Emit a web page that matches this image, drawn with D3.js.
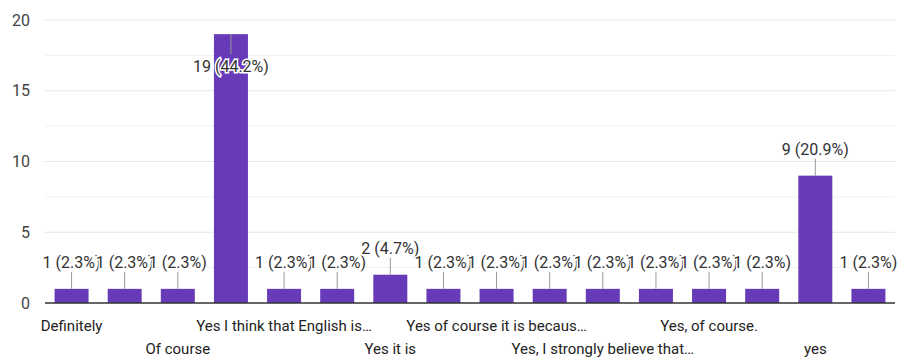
<!DOCTYPE html>
<html>
<head>
<meta charset="utf-8">
<script src="https://cdn.jsdelivr.net/npm/d3@7"></script>
<style>
  body { margin: 0; background: #fff; }
  svg text { font-family: Roboto, Arial, sans-serif; }
</style>
</head>
<body>
<div id="app"></div>
<script>
// Chart data
const labels = [
  "Definitely", "", "Of course", "", "Yes I think that English is…", "",
  "Yes it is", "", "Yes of course it is becaus…", "", "Yes, I strongly believe that…", "",
  "Yes, of course.", "", "yes", ""
];
const counts = [1, 1, 1, 19, 1, 1, 2, 1, 1, 1, 1, 1, 1, 1, 9, 1];
const percents = ["2.3", "2.3", "2.3", "44.2", "2.3", "2.3", "4.7", "2.3", "2.3", "2.3", "2.3", "2.3", "2.3", "2.3", "20.9", "2.3"];
const yTicks = [0, 5, 10, 15, 20];
const yMinor = [2.5, 7.5, 12.5, 17.5];

const width = 899;
const height = 359;
const plotLeft = 45, plotRight = 895, plotTop = 20, plotBottom = 303;

const x = d3.scaleBand()
  .domain(d3.range(counts.length))
  .range([plotLeft, plotRight])
  .paddingInner(0.36)
  .paddingOuter(0.18);

const y = d3.scaleLinear().domain([0, 20]).range([plotBottom, plotTop]);

const svg = d3.select("#app")
  .append("svg")
  .attr("width", width)
  .attr("height", height);

// Gridlines
svg.append("g")
  .selectAll("line")
  .data(yMinor)
  .join("line")
  .attr("x1", plotLeft).attr("x2", plotRight)
  .attr("y1", d => y(d)).attr("y2", d => y(d))
  .attr("stroke", "#f1f1f1");

svg.append("g")
  .selectAll("line")
  .data(yTicks.filter(d => d > 0))
  .join("line")
  .attr("x1", plotLeft).attr("x2", plotRight)
  .attr("y1", d => y(d)).attr("y2", d => y(d))
  .attr("stroke", "#e6e6e6");

// Y axis labels
svg.append("g")
  .selectAll("text")
  .data(yTicks)
  .join("text")
  .attr("x", 30)
  .attr("y", d => y(d) + 5.5)
  .attr("text-anchor", "end")
  .attr("font-size", 16)
  .attr("fill", "#444")
  .text(d => d);

// Bars
svg.append("g")
  .selectAll("rect")
  .data(counts)
  .join("rect")
  .attr("x", (d, i) => x(i))
  .attr("y", d => y(d))
  .attr("width", x.bandwidth())
  .attr("height", d => plotBottom - y(d))
  .attr("fill", "#673ab7");

// Baseline
svg.append("line")
  .attr("x1", plotLeft).attr("x2", plotRight)
  .attr("y1", plotBottom).attr("y2", plotBottom)
  .attr("stroke", "#333")
  .attr("stroke-width", 1.5);

// Annotations: leader line + label with white halo
const inside = d => d > 17;
const ann = svg.append("g");
counts.forEach((d, i) => {
  const cx = x(i) + x.bandwidth() / 2;
  const yt = y(d);
  const y2 = inside(d) ? yt + 20 : yt - 17;
  ann.append("line")
    .attr("x1", cx).attr("x2", cx)
    .attr("y1", yt).attr("y2", y2)
    .attr("stroke", "#999");
  ann.append("text")
    .attr("x", cx)
    .attr("y", inside(d) ? yt + 38 : yt - 21)
    .attr("text-anchor", "middle")
    .attr("font-size", 16)
    .attr("fill", "#333")
    .attr("stroke", "#fff")
    .attr("stroke-width", 3)
    .attr("paint-order", "stroke")
    .text(`${d} (${percents[i]}%)`);
});

// X labels, alternating rows
svg.append("g")
  .selectAll("text")
  .data(labels)
  .join("text")
  .attr("x", (d, i) => x(i) + x.bandwidth() / 2)
  .attr("y", (d, i) => (i % 4 === 0 ? 331 : 354))
  .attr("text-anchor", "middle")
  .attr("font-size", 15)
  .attr("fill", "#222")
  .text(d => d);
</script>
</body>
</html>
